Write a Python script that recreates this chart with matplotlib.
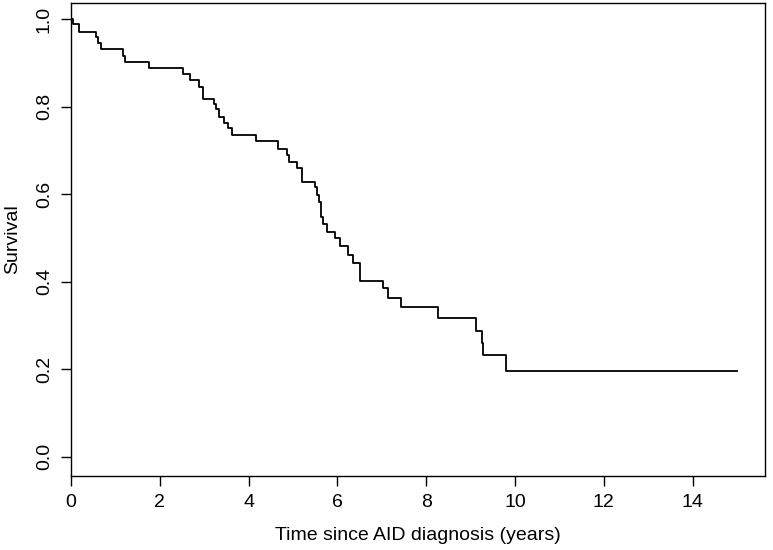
import matplotlib
matplotlib.use('Agg')
import matplotlib.pyplot as plt

# Kaplan-Meier estimate (level after each time point)
times = [0.0, 0.05, 0.18, 0.56, 0.60, 0.67, 1.18, 1.22, 1.76, 2.53, 2.68, 2.89,
         2.98, 3.21, 3.26, 3.33, 3.45, 3.54, 3.62, 4.16, 4.67, 4.87, 4.92, 5.10,
         5.21, 5.50, 5.53, 5.59, 5.63, 5.67, 5.77, 5.95, 6.06, 6.23, 6.36, 6.51,
         7.03, 7.13, 7.43, 8.27, 9.12, 9.25, 9.29, 9.80, 15.0]
surv = [1.000, 0.989, 0.972, 0.960, 0.947, 0.932, 0.917, 0.903, 0.888, 0.876,
        0.861, 0.846, 0.817, 0.806, 0.795, 0.777, 0.764, 0.751, 0.735, 0.722,
        0.703, 0.690, 0.674, 0.661, 0.629, 0.617, 0.598, 0.583, 0.549, 0.532,
        0.514, 0.499, 0.482, 0.461, 0.442, 0.402, 0.385, 0.364, 0.343, 0.316,
        0.288, 0.261, 0.232, 0.197, 0.197]

xticks = [0, 2, 4, 6, 8, 10, 12, 14]
yticks = [0.0, 0.2, 0.4, 0.6, 0.8, 1.0]

plt.rcParams.update({
    'font.family': ['Liberation Sans', 'DejaVu Sans'],
    'font.size': 14,
})

W, H = 773, 550
fig = plt.figure(figsize=(W / 100, H / 100), dpi=100)
fig.patch.set_facecolor('white')
ax = fig.add_axes([71 / W, 1 - 475.7 / H, (765 - 71) / W, (475.7 - 2.7) / H])

ax.step(times, surv, where='post', color='black', lw=1.3)

ax.set_xlim(0, 15.63)
ax.set_ylim(-0.0434, 1.038)
ax.set_xticks(xticks)
ax.set_xticklabels([str(t) for t in xticks])
ax.set_yticks(yticks)
ax.set_yticklabels([f'{t:.1f}' for t in yticks], rotation=90, va='center')

for s in ax.spines.values():
    s.set_linewidth(1.0)
ax.tick_params(direction='out', length=7, width=1.0, pad=6, labelsize=14)

ax.set_xlabel('Time since AID diagnosis (years)', fontsize=14)
ax.set_ylabel('Survival', fontsize=14)
ax.xaxis.set_label_coords(0.5, -0.109)
ax.yaxis.set_label_coords(-0.072, 0.5)

fig.savefig('out.png', dpi=100)
